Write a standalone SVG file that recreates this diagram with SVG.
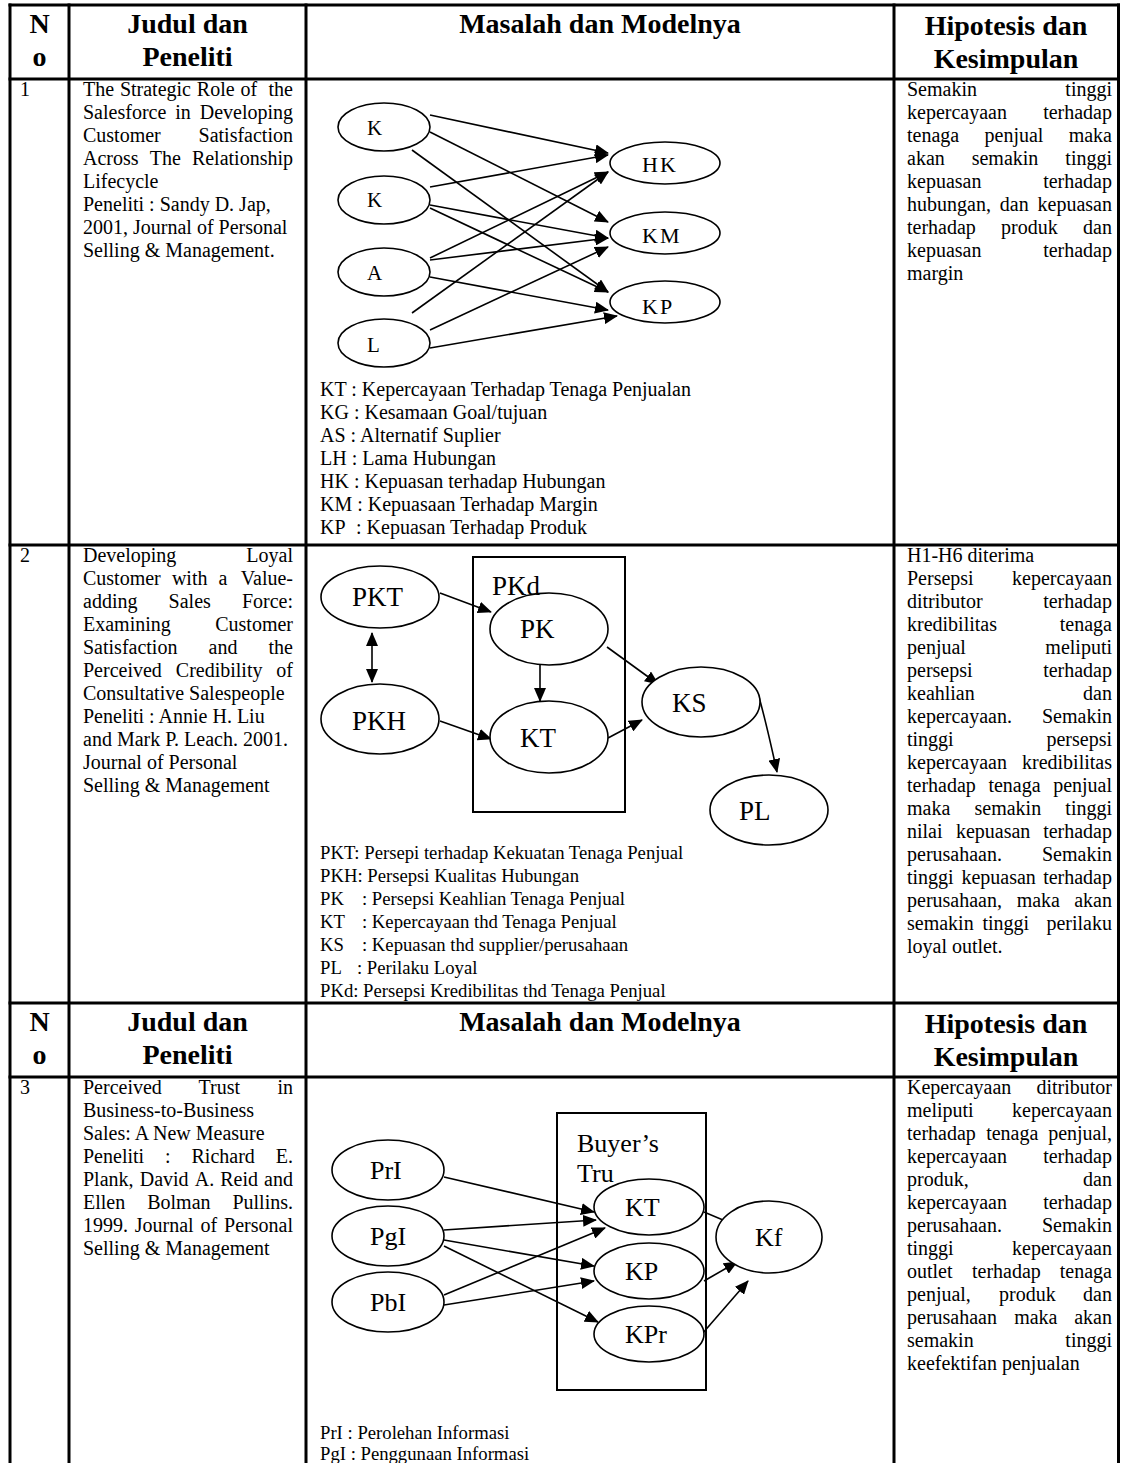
<svg xmlns="http://www.w3.org/2000/svg" width="1121" height="1463" viewBox="0 0 1121 1463">
<style>
  text { font-family: "Liberation Serif", "Times New Roman", serif; fill: #000; }
  .h { font-size: 28px; font-weight: bold; text-anchor: middle; }
  .t { font-size: 20px; }
  .lg { font-size: 18.7px; }
  .e { text-anchor: end; }
  .grid line { stroke: #000; stroke-width: 3; }
  .nd ellipse { fill: #fff; stroke: #000; stroke-width: 1.6; }
  .l1 { font-size: 21px; }
  .r1 { font-size: 22px; letter-spacing: 2px; }
  .l2 { font-size: 27px; }
  .l3 { font-size: 26px; }
  .cn path { fill: none; stroke: #000; stroke-width: 1.6; marker-end: url(#ah); }
  .box { fill: none; stroke: #000; stroke-width: 2; }
</style>
<defs>
  <marker id="ah" markerWidth="14" markerHeight="12" refX="13" refY="6" orient="auto" markerUnits="userSpaceOnUse">
    <path d="M0,0 L14,6 L0,12 z" fill="#000"/>
  </marker>
  <marker id="ahs" markerWidth="14" markerHeight="12" refX="13" refY="6" orient="auto-start-reverse" markerUnits="userSpaceOnUse">
    <path d="M0,0 L14,6 L0,12 z" fill="#000"/>
  </marker>
</defs>
<rect width="1121" height="1463" fill="#fff"/>

<!-- table grid -->
<g class="grid" id="table-grid">
  <line x1="8.5" y1="5" x2="1120" y2="5"/>
  <line x1="8.5" y1="79" x2="1120" y2="79"/>
  <line x1="8.5" y1="545" x2="1120" y2="545"/>
  <line x1="8.5" y1="1003" x2="1120" y2="1003"/>
  <line x1="8.5" y1="1077" x2="1120" y2="1077"/>
  <line x1="10" y1="3.5" x2="10" y2="1463"/>
  <line x1="69" y1="3.5" x2="69" y2="1463"/>
  <line x1="306" y1="3.5" x2="306" y2="1463"/>
  <line x1="894" y1="3.5" x2="894" y2="1463"/>
  <line x1="1118.5" y1="3.5" x2="1118.5" y2="1463"/>
</g>

<!-- header rows -->
<g id="header-1">
  <text class="h" x="39.5" y="33">N</text>
  <text class="h" x="39.5" y="66">o</text>
  <text class="h" x="187.5" y="33">Judul dan</text>
  <text class="h" x="187.5" y="66">Peneliti</text>
  <text class="h" x="600" y="33">Masalah dan Modelnya</text>
  <text class="h" x="1006" y="35">Hipotesis dan</text>
  <text class="h" x="1006" y="68">Kesimpulan</text>
</g>
<g id="header-2">
  <text class="h" x="39.5" y="1031">N</text>
  <text class="h" x="39.5" y="1064">o</text>
  <text class="h" x="187.5" y="1031">Judul dan</text>
  <text class="h" x="187.5" y="1064">Peneliti</text>
  <text class="h" x="600" y="1031">Masalah dan Modelnya</text>
  <text class="h" x="1006" y="1033">Hipotesis dan</text>
  <text class="h" x="1006" y="1066">Kesimpulan</text>
</g>

<!-- row 1: study text -->
<g id="row1-text">
  <text class="t" x="20" y="96">1</text>
  <text class="t" x="83" y="96">The</text><text class="t" x="119.9" y="96">Strategic</text><text class="t" x="196.8" y="96">Role</text><text class="t" x="240.4" y="96">of</text><text class="t e" x="293" y="96">the</text>
  <text class="t" x="83" y="119">Salesforce</text><text class="t" x="175.2" y="119">in</text><text class="t e" x="293" y="119">Developing</text>
  <text class="t" x="83" y="142">Customer</text><text class="t e" x="293" y="142">Satisfaction</text>
  <text class="t" x="83" y="165">Across</text><text class="t" x="149.7" y="165">The</text><text class="t e" x="293" y="165">Relationship</text>
  <text class="t" x="83" y="188">Lifecycle</text>
  <text class="t" x="83" y="211">Peneliti : Sandy D. Jap,</text>
  <text class="t" x="83" y="234">2001, Journal of Personal</text>
  <text class="t" x="83" y="257">Selling &amp; Management.</text>
</g>
<g id="row1-conclusion">
  <text class="t" x="907" y="96">Semakin</text><text class="t e" x="1112" y="96">tinggi</text>
  <text class="t" x="907" y="119">kepercayaan</text><text class="t e" x="1112" y="119">terhadap</text>
  <text class="t" x="907" y="142">tenaga</text><text class="t" x="984.5" y="142">penjual</text><text class="t e" x="1112" y="142">maka</text>
  <text class="t" x="907" y="165">akan</text><text class="t" x="971.7" y="165">semakin</text><text class="t e" x="1112" y="165">tinggi</text>
  <text class="t" x="907" y="188">kepuasan</text><text class="t e" x="1112" y="188">terhadap</text>
  <text class="t" x="907" y="211">hubungan,</text><text class="t" x="999.8" y="211">dan</text><text class="t e" x="1112" y="211">kepuasan</text>
  <text class="t" x="907" y="234">terhadap</text><text class="t" x="1001.1" y="234">produk</text><text class="t e" x="1112" y="234">dan</text>
  <text class="t" x="907" y="257">kepuasan</text><text class="t e" x="1112" y="257">terhadap</text>
  <text class="t" x="907" y="280">margin</text>
</g>

<!-- row 1: model -->
<g id="m1-connectors" class="cn">
  <path d="M430,115 L608,153"/>
  <path d="M430,132 L608,222"/>
  <path d="M412,150 L608,292"/>
  <path d="M430,187 L608,155"/>
  <path d="M430,205 L608,238"/>
  <path d="M430,208 L608,292"/>
  <path d="M430,258 L608,172"/>
  <path d="M430,260 L608,238"/>
  <path d="M430,277 L608,310"/>
  <path d="M412,313 L608,172"/>
  <path d="M430,330 L608,247"/>
  <path d="M430,348 L617,316"/>
</g>
<g id="m1-KT" class="nd"><ellipse cx="384" cy="127" rx="46" ry="24"/><text class="l1" x="367" y="135">K</text></g>
<g id="m1-KG" class="nd"><ellipse cx="384" cy="200" rx="46" ry="24"/><text class="l1" x="367" y="207">K</text></g>
<g id="m1-AS" class="nd"><ellipse cx="384" cy="272" rx="46" ry="24"/><text class="l1" x="367" y="280">A</text></g>
<g id="m1-LH" class="nd"><ellipse cx="384" cy="343" rx="46" ry="24"/><text class="l1" x="367" y="352">L</text></g>
<g id="m1-HK" class="nd"><ellipse cx="665" cy="163" rx="55" ry="21"/><text class="r1" x="642" y="172">HK</text></g>
<g id="m1-KM" class="nd"><ellipse cx="665" cy="233" rx="55" ry="21"/><text class="r1" x="642" y="243">KM</text></g>
<g id="m1-KP" class="nd"><ellipse cx="665" cy="302" rx="55" ry="21"/><text class="r1" x="642" y="314">KP</text></g>
<g id="m1-legend">
  <text class="t" x="320" y="396">KT : Kepercayaan Terhadap Tenaga Penjualan</text>
  <text class="t" x="320" y="419">KG : Kesamaan Goal/tujuan</text>
  <text class="t" x="320" y="442">AS : Alternatif Suplier</text>
  <text class="t" x="320" y="465">LH : Lama Hubungan</text>
  <text class="t" x="320" y="488">HK : Kepuasan terhadap Hubungan</text>
  <text class="t" x="320" y="511">KM : Kepuasaan Terhadap Margin</text>
  <text class="t" x="320" y="534">KP</text><text class="t" x="356" y="534">: Kepuasan Terhadap Produk</text>
</g>

<!-- row 2: study text -->
<g id="row2-text">
  <text class="t" x="20" y="562">2</text>
  <text class="t" x="83" y="562">Developing</text><text class="t e" x="293" y="562">Loyal</text>
  <text class="t" x="83" y="585">Customer</text><text class="t" x="171.9" y="585">with</text><text class="t" x="218.6" y="585">a</text><text class="t e" x="293" y="585">Value-</text>
  <text class="t" x="83" y="608">adding</text><text class="t" x="168.6" y="608">Sales</text><text class="t e" x="293" y="608">Force:</text>
  <text class="t" x="83" y="631">Examining</text><text class="t e" x="293" y="631">Customer</text>
  <text class="t" x="83" y="654">Satisfaction</text><text class="t" x="208.6" y="654">and</text><text class="t e" x="293" y="654">the</text>
  <text class="t" x="83" y="677">Perceived</text><text class="t" x="175.8" y="677">Credibility</text><text class="t e" x="293" y="677">of</text>
  <text class="t" x="83" y="700">Consultative Salespeople</text>
  <text class="t" x="83" y="723">Peneliti : Annie H. Liu</text>
  <text class="t" x="83" y="746">and Mark P. Leach. 2001.</text>
  <text class="t" x="83" y="769">Journal of Personal</text>
  <text class="t" x="83" y="792">Selling &amp; Management</text>
</g>
<g id="row2-conclusion">
  <text class="t" x="907" y="562">H1-H6 diterima</text>
  <text class="t" x="907" y="585">Persepsi</text><text class="t e" x="1112" y="585">kepercayaan</text>
  <text class="t" x="907" y="608">ditributor</text><text class="t e" x="1112" y="608">terhadap</text>
  <text class="t" x="907" y="631">kredibilitas</text><text class="t e" x="1112" y="631">tenaga</text>
  <text class="t" x="907" y="654">penjual</text><text class="t e" x="1112" y="654">meliputi</text>
  <text class="t" x="907" y="677">persepsi</text><text class="t e" x="1112" y="677">terhadap</text>
  <text class="t" x="907" y="700">keahlian</text><text class="t e" x="1112" y="700">dan</text>
  <text class="t" x="907" y="723">kepercayaan.</text><text class="t e" x="1112" y="723">Semakin</text>
  <text class="t" x="907" y="746">tinggi</text><text class="t e" x="1112" y="746">persepsi</text>
  <text class="t" x="907" y="769">kepercayaan</text><text class="t e" x="1112" y="769">kredibilitas</text>
  <text class="t" x="907" y="792">terhadap</text><text class="t" x="988.4" y="792">tenaga</text><text class="t e" x="1112" y="792">penjual</text>
  <text class="t" x="907" y="815">maka</text><text class="t" x="974.5" y="815">semakin</text><text class="t e" x="1112" y="815">tinggi</text>
  <text class="t" x="907" y="838">nilai</text><text class="t" x="955.9" y="838">kepuasan</text><text class="t e" x="1112" y="838">terhadap</text>
  <text class="t" x="907" y="861">perusahaan.</text><text class="t e" x="1112" y="861">Semakin</text>
  <text class="t" x="907" y="884">tinggi</text><text class="t" x="961.4" y="884">kepuasan</text><text class="t e" x="1112" y="884">terhadap</text>
  <text class="t" x="907" y="907">perusahaan,</text><text class="t" x="1016.7" y="907">maka</text><text class="t e" x="1112" y="907">akan</text>
  <text class="t" x="907" y="930">semakin</text><text class="t" x="982.4" y="930">tinggi</text><text class="t e" x="1112" y="930">perilaku</text>
  <text class="t" x="907" y="953">loyal outlet.</text>
</g>

<!-- row 2: model -->
<rect class="box" id="m2-PKd-box" x="473" y="557" width="152" height="255"/>
<g id="m2-PKd"><text class="l2" x="492" y="595">PKd</text></g>
<g id="m2-connectors" class="cn">
  <path d="M440,593 L491,612"/>
  <path d="M372,633 L372,682" style="marker-start:url(#ahs)"/>
  <path d="M440,721 L491,739"/>
  <path d="M540,665 L540,701"/>
  <path d="M607,647 L658,684"/>
  <path d="M608,738 L642,720"/>
  <path d="M759,697 Q766,722 777,772"/>
</g>
<g id="m2-PKT" class="nd"><ellipse cx="380" cy="597" rx="59" ry="31"/><text class="l2" x="352" y="606">PKT</text></g>
<g id="m2-PKH" class="nd"><ellipse cx="380" cy="719" rx="59" ry="35"/><text class="l2" x="352" y="730">PKH</text></g>
<g id="m2-PK" class="nd"><ellipse cx="549" cy="629" rx="59" ry="36" style="fill:none"/><text class="l2" x="520" y="638">PK</text></g>
<g id="m2-KT" class="nd"><ellipse cx="549" cy="737" rx="59" ry="36"/><text class="l2" x="520" y="747">KT</text></g>
<g id="m2-KS" class="nd"><ellipse cx="701" cy="702" rx="59" ry="35"/><text class="l2" x="672" y="712">KS</text></g>
<g id="m2-PL" class="nd"><ellipse cx="769" cy="810" rx="59" ry="35"/><text class="l2" x="739" y="820">PL</text></g>
<g id="m2-legend">
  <text class="lg" x="320" y="859">PKT: Persepi terhadap Kekuatan Tenaga Penjual</text>
  <text class="lg" x="320" y="882">PKH: Persepsi Kualitas Hubungan</text>
  <text class="lg" x="320" y="905">PK</text><text class="lg" x="362" y="905">: Persepsi Keahlian Tenaga Penjual</text>
  <text class="lg" x="320" y="928">KT</text><text class="lg" x="362" y="928">: Kepercayaan thd Tenaga Penjual</text>
  <text class="lg" x="320" y="951">KS</text><text class="lg" x="362" y="951">: Kepuasan thd supplier/perusahaan</text>
  <text class="lg" x="320" y="974">PL</text><text class="lg" x="357" y="974">: Perilaku Loyal</text>
  <text class="lg" x="320" y="997">PKd: Persepsi Kredibilitas thd Tenaga Penjual</text>
</g>

<!-- row 3: study text -->
<g id="row3-text">
  <text class="t" x="20" y="1094">3</text>
  <text class="t" x="83" y="1094">Perceived</text><text class="t" x="198.6" y="1094">Trust</text><text class="t e" x="293" y="1094">in</text>
  <text class="t" x="83" y="1117">Business-to-Business</text>
  <text class="t" x="83" y="1140">Sales: A New Measure</text>
  <text class="t" x="83" y="1163">Peneliti</text><text class="t" x="165" y="1163">:</text><text class="t" x="191.5" y="1163">Richard</text><text class="t e" x="293" y="1163">E.</text>
  <text class="t" x="83" y="1186">Plank,</text><text class="t" x="139.7" y="1186">David</text><text class="t" x="194.7" y="1186">A.</text><text class="t" x="220.2" y="1186">Reid</text><text class="t e" x="293" y="1186">and</text>
  <text class="t" x="83" y="1209">Ellen</text><text class="t" x="147.2" y="1209">Bolman</text><text class="t e" x="293" y="1209">Pullins.</text>
  <text class="t" x="83" y="1232">1999.</text><text class="t" x="134.8" y="1232">Journal</text><text class="t" x="200.5" y="1232">of</text><text class="t e" x="293" y="1232">Personal</text>
  <text class="t" x="83" y="1255">Selling &amp; Management</text>
</g>
<g id="row3-conclusion">
  <text class="t" x="907" y="1094">Kepercayaan</text><text class="t e" x="1112" y="1094">ditributor</text>
  <text class="t" x="907" y="1117">meliputi</text><text class="t e" x="1112" y="1117">kepercayaan</text>
  <text class="t" x="907" y="1140">terhadap</text><text class="t" x="986.2" y="1140">tenaga</text><text class="t e" x="1112" y="1140">penjual,</text>
  <text class="t" x="907" y="1163">kepercayaan</text><text class="t e" x="1112" y="1163">terhadap</text>
  <text class="t" x="907" y="1186">produk,</text><text class="t e" x="1112" y="1186">dan</text>
  <text class="t" x="907" y="1209">kepercayaan</text><text class="t e" x="1112" y="1209">terhadap</text>
  <text class="t" x="907" y="1232">perusahaan.</text><text class="t e" x="1112" y="1232">Semakin</text>
  <text class="t" x="907" y="1255">tinggi</text><text class="t e" x="1112" y="1255">kepercayaan</text>
  <text class="t" x="907" y="1278">outlet</text><text class="t" x="972" y="1278">terhadap</text><text class="t e" x="1112" y="1278">tenaga</text>
  <text class="t" x="907" y="1301">penjual,</text><text class="t" x="999" y="1301">produk</text><text class="t e" x="1112" y="1301">dan</text>
  <text class="t" x="907" y="1324">perusahaan</text><text class="t" x="1014.2" y="1324">maka</text><text class="t e" x="1112" y="1324">akan</text>
  <text class="t" x="907" y="1347">semakin</text><text class="t e" x="1112" y="1347">tinggi</text>
  <text class="t" x="907" y="1370">keefektifan penjualan</text>
</g>

<!-- row 3: model -->
<rect class="box" id="m3-trust-box" x="557" y="1113" width="149" height="277"/>
<g id="m3-trust-label"><text class="l3" x="577" y="1152">Buyer’s</text><text class="l3" x="577" y="1182">Tru</text></g>
<g id="m3-connectors" class="cn">
  <path d="M444,1177 L594,1212"/>
  <path d="M444,1230 L596,1220"/>
  <path d="M444,1240 L594,1266"/>
  <path d="M444,1246 L598,1322"/>
  <path d="M444,1295 L605,1228"/>
  <path d="M444,1305 L594,1281"/>
  <path d="M704,1212 L742,1228"/>
  <path d="M704,1281 L737,1262"/>
  <path d="M702,1334 L748,1281"/>
</g>
<g id="m3-PrI" class="nd"><ellipse cx="388" cy="1170" rx="56" ry="30"/><text class="l3" x="370" y="1179">PrI</text></g>
<g id="m3-PgI" class="nd"><ellipse cx="388" cy="1236" rx="56" ry="30"/><text class="l3" x="370" y="1245">PgI</text></g>
<g id="m3-PbI" class="nd"><ellipse cx="388" cy="1302" rx="56" ry="30"/><text class="l3" x="370" y="1311">PbI</text></g>
<g id="m3-KT" class="nd"><ellipse cx="649" cy="1207" rx="55" ry="28"/><text class="l3" x="625" y="1216">KT</text></g>
<g id="m3-KP" class="nd"><ellipse cx="649" cy="1271" rx="55" ry="28"/><text class="l3" x="625" y="1280">KP</text></g>
<g id="m3-KPr" class="nd"><ellipse cx="649" cy="1334" rx="55" ry="28"/><text class="l3" x="625" y="1343">KPr</text></g>
<g id="m3-Kf" class="nd"><ellipse cx="769" cy="1237" rx="53" ry="36"/><text class="l3" x="755" y="1246">Kf</text></g>
<g id="m3-legend">
  <text class="lg" x="320" y="1439">PrI : Perolehan Informasi</text>
  <text class="lg" x="320" y="1460">PgI : Penggunaan Informasi</text>
</g>
</svg>
